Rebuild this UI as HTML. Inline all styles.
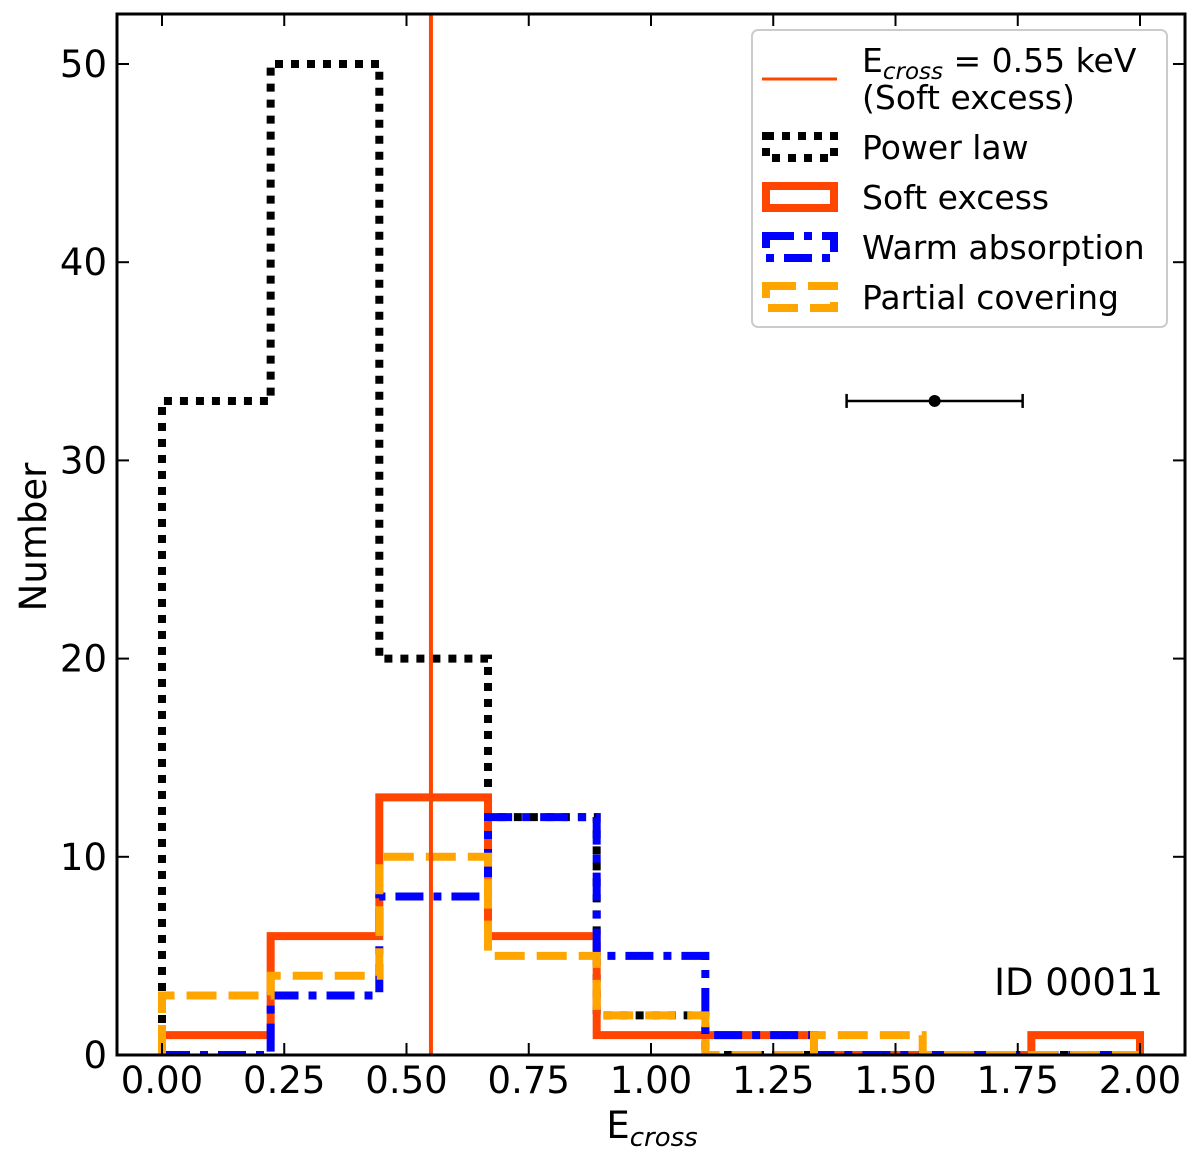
<!DOCTYPE html>
<html><head><meta charset="utf-8"><style>
body{margin:0;background:#fff}
svg text{font-family:"DejaVu Sans","Liberation Sans",sans-serif;fill:#000}
</style></head><body>
<svg id="c" width="1200" height="1161" xmlns="http://www.w3.org/2000/svg">
<defs><clipPath id="pc"><rect x="117" y="14" width="1068" height="1041"/></clipPath></defs>
<g id="marks" clip-path="url(#pc)"></g>
<rect x="117" y="14" width="1068" height="1041" fill="none" stroke="#000" stroke-width="3"/>
<g id="axes"></g>
<text x="652" y="1138" font-size="37" text-anchor="middle">E<tspan font-size="26" font-style="italic" dy="8">cross</tspan></text>
<text transform="translate(46,537) rotate(-90)" font-size="37" text-anchor="middle">Number</text>
<text x="1163" y="995" font-size="37" text-anchor="end">ID 00011</text>
<g>
<rect x="752" y="30" width="415" height="297" rx="6" fill="#fff" stroke="#ccc" stroke-width="2"/>
<line x1="762" y1="79" x2="837" y2="79" stroke="#ff4500" stroke-width="3"/>
<text x="862" y="72" font-size="33">E<tspan font-size="23" font-style="italic" dy="7">cross</tspan><tspan dy="-7"> = 0.55 keV</tspan></text>
<text x="862" y="109" font-size="33">(Soft excess)</text>
<rect x="766" y="136" width="68" height="22" fill="none" stroke="#000" stroke-width="8" stroke-dasharray="8,8"/>
<text x="862" y="159" font-size="33">Power law</text>
<rect x="766" y="186" width="68" height="22" fill="none" stroke="#ff4500" stroke-width="8"/>
<text x="862" y="209" font-size="33">Soft excess</text>
<rect x="766" y="236" width="68" height="22" fill="none" stroke="#0000ff" stroke-width="8" stroke-dasharray="28,10,8,10"/>
<text x="862" y="259" font-size="33">Warm absorption</text>
<rect x="766" y="286" width="68" height="22" fill="none" stroke="#ffa500" stroke-width="8" stroke-dasharray="30,12"/>
<text x="862" y="309" font-size="33">Partial covering</text>
</g>
</svg>
<script>
const edges=[0,0.2222,0.4444,0.6667,0.8889,1.1111,1.3333,1.5556,1.7778,2.0];
const powerLaw=[33,50,20,12,2,0,0,0,0];
const softExcess=[1,6,13,6,1,1,0,0,1];
const warmAbs=[0,3,8,12,5,1,0,0,0];
const partialCov=[3,4,10,5,2,0,1,0,0];
const xTicks=[0,0.25,0.5,0.75,1.0,1.25,1.5,1.75,2.0];
const xTickLabels=["0.00","0.25","0.50","0.75","1.00","1.25","1.50","1.75","2.00"];
const yTicks=[0,10,20,30,40,50];
const ecross=0.55;
const errPoint={x:1.58,y:33,xlo:1.40,xhi:1.76};
const X=v=>162+v*489;
const Y=v=>1055-v*19.82;
const NS="http://www.w3.org/2000/svg";
const marks=document.getElementById('marks'),axes=document.getElementById('axes');
function mk(tag,attrs,parent){const e=document.createElementNS(NS,tag);for(const k in attrs)e.setAttribute(k,attrs[k]);parent.appendChild(e);return e;}
function step(vals){let d=`M${X(edges[0])},${Y(0)}`;vals.forEach((v,i)=>{d+=`L${X(edges[i])},${Y(v)}L${X(edges[i+1])},${Y(v)}`;});d+=`L${X(edges[edges.length-1])},${Y(0)}`;return d;}
const series=[[powerLaw,'#000','8,8','power-law-step'],[softExcess,'#ff4500','none','soft-excess-step'],[warmAbs,'#0000ff','28,10,8,10','warm-absorption-step'],[partialCov,'#ffa500','30,12','partial-covering-step']];
series.forEach(s=>{const p=mk('path',{d:step(s[0]),fill:'none',stroke:s[1],'stroke-width':8,'stroke-dasharray':s[2]},marks);

});
const vl=mk('line',{x1:X(ecross),x2:X(ecross),y1:14,y2:1055,stroke:'#ff4500','stroke-width':4},marks);


const eb=mk('line',{x1:X(errPoint.xlo),x2:X(errPoint.xhi),y1:Y(errPoint.y),y2:Y(errPoint.y),stroke:'#000','stroke-width':2.5},marks);


[errPoint.xlo,errPoint.xhi].forEach(v=>mk('line',{x1:X(v),x2:X(v),y1:Y(errPoint.y)-7,y2:Y(errPoint.y)+7,stroke:'#000','stroke-width':2.5},marks));
const dot=mk('circle',{cx:X(errPoint.x),cy:Y(errPoint.y),r:6,fill:'#000'},marks);


xTicks.forEach((t,i)=>{mk('line',{x1:X(t),x2:X(t),y1:1055,y2:1043,stroke:'#000','stroke-width':2},axes);mk('line',{x1:X(t),x2:X(t),y1:14,y2:26,stroke:'#000','stroke-width':2},axes);
const tx=mk('text',{x:X(t),y:1093,'font-size':37,'text-anchor':'middle'},axes);tx.textContent=xTickLabels[i];

});
yTicks.forEach(t=>{mk('line',{x1:117,x2:129,y1:Y(t),y2:Y(t),stroke:'#000','stroke-width':2},axes);mk('line',{x1:1173,x2:1185,y1:Y(t),y2:Y(t),stroke:'#000','stroke-width':2},axes);
const tx=mk('text',{x:107,y:Y(t)+13,'font-size':37,'text-anchor':'end'},axes);tx.textContent=t;

});
</script>
</body></html>
